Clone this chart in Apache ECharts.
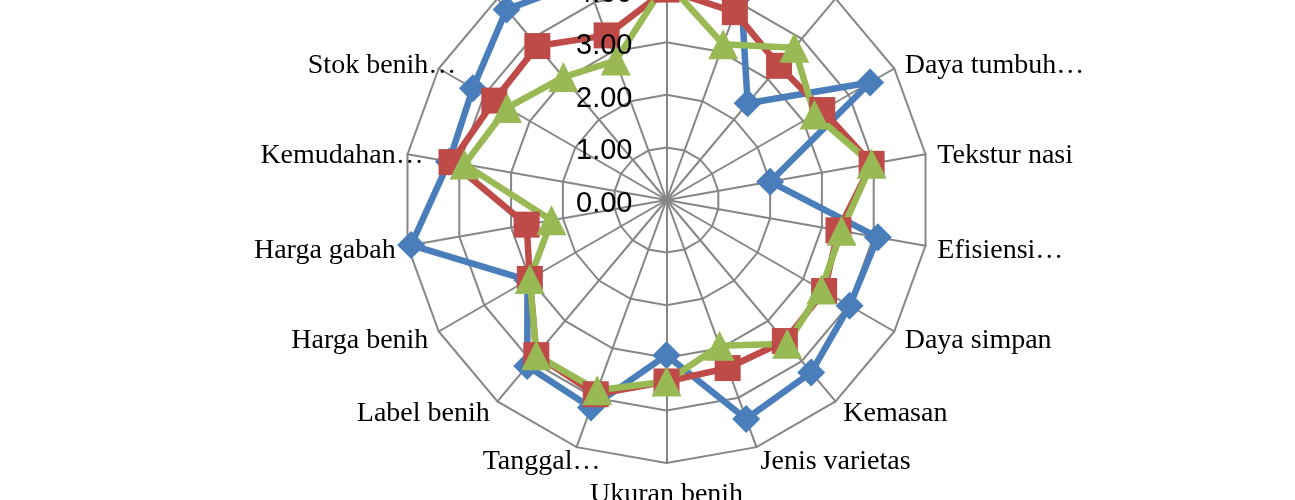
<!DOCTYPE html>
<html>
<head>
<meta charset="utf-8">
<script src="https://cdn.jsdelivr.net/npm/echarts@6/dist/echarts.min.js"></script>
<style>
html,body{margin:0;padding:0;background:#fff;}
#chart{width:1295px;height:500px;}
</style>
</head>
<body>
<div id="chart"></div>
<script>
// Categories in clockwise order starting from the top axis
var categories = [
  "Produktivitas", "Umur panen", "Ketahanan hama…", "Daya tumbuh…", "Tekstur nasi",
  "Efisiensi…", "Daya simpan", "Kemasan", "Jenis varietas", "Ukuran benih",
  "Tanggal…", "Label benih", "Harga benih", "Harga gabah", "Kemudahan…",
  "Stok benih…", "Rasa nasi", "Rendemen…"
];
var seriesBlue  = [4.40, 4.15, 2.40, 4.47, 2.00, 4.08, 4.02, 4.28, 4.43, 2.95, 4.20, 4.12, 3.05, 4.93, 4.20, 4.25, 4.73, 4.45];
var seriesRed   = [4.00, 3.80, 3.33, 3.42, 3.96, 3.32, 3.46, 3.50, 3.40, 3.45, 3.93, 3.85, 3.00, 2.70, 4.15, 3.78, 3.82, 3.33];
var seriesGreen = [4.15, 3.15, 3.78, 3.25, 3.96, 3.38, 3.40, 3.57, 2.95, 3.45, 3.85, 3.85, 3.00, 2.22, 3.90, 3.50, 3.05, 2.82];
var tickLabels = ["0.00", "1.00", "2.00", "3.00", "4.00", "5.00"];

// ECharts radar places indicators counter-clockwise; reorder to clockwise
function cw(arr) {
  var out = [arr[0]];
  for (var i = arr.length - 1; i >= 1; i--) out.push(arr[i]);
  return out;
}

var cx = 666.5, cy = 200, R = 263;
var chart = echarts.init(document.getElementById('chart'), null, {renderer: 'canvas'});
var option = {
  animation: false,
  backgroundColor: '#ffffff',
  polar: { center: [cx, cy], radius: R },
  angleAxis: {
    type: 'value', min: 0, max: 360, startAngle: 90, show: false
  },
  radiusAxis: {
    type: 'value', min: 0, max: 5, interval: 1,
    axisLine: { show: false }, axisTick: { show: false }, splitLine: { show: false },
    axisLabel: {
      show: true, margin: 34, color: '#000',
      fontFamily: 'Liberation Sans', fontSize: 29,
      formatter: function (v) { return '{v|' + tickLabels[Math.round(v)] + '}'; },
      rich: {
        v: { color: '#000', fontFamily: 'Liberation Sans', fontSize: 29, padding: [8, 0, 0, 0] }
      }
    },
    z: 10
  },
  radar: {
    center: [cx, cy],
    radius: R,
    startAngle: 90,
    splitNumber: 5,
    shape: 'polygon',
    axisNameGap: 12,
    indicator: cw(categories).map(function (n) { return { name: n, min: 0, max: 5 }; }),
    axisName: {
      color: '#000', fontFamily: 'Liberation Serif', fontSize: 28,
      padding: [6, 0, 0, 0],
      formatter: function (name) {
        var idx = categories.indexOf(name);
        if (idx > 9 && name.charAt(name.length - 1) === '…') {
          return '{a|' + name + '}';
        }
        return '{t|' + name + '}';
      },
      rich: {
        t: { color: '#000', fontFamily: 'Liberation Serif', fontSize: 28 },
        a: { color: '#000', fontFamily: 'Liberation Serif', fontSize: 28, padding: [0, -28, 0, 0] }
      }
    },
    splitLine: { lineStyle: { color: '#868686', width: 2 } },
    splitArea: { show: false },
    axisLine: { lineStyle: { color: '#868686', width: 2 } },
    axisTick: { show: false },
    axisLabel: { show: false }
  },
  series: [{
    type: 'radar',
    data: [
      { value: cw(seriesBlue), name: 'A', symbol: 'diamond', symbolSize: 28,
        lineStyle: { color: '#4A7EBB', width: 6.5 }, itemStyle: { color: '#4A7EBB' } },
      { value: cw(seriesRed), name: 'B', symbol: 'rect', symbolSize: 26,
        lineStyle: { color: '#BE4B48', width: 6.5 }, itemStyle: { color: '#BE4B48' } },
      { value: cw(seriesGreen), name: 'C', symbol: 'triangle', symbolSize: 30,
        lineStyle: { color: '#98B954', width: 6.5 }, itemStyle: { color: '#98B954' } }
    ]
  }]
};
chart.setOption(option);
</script>
</body>
</html>
